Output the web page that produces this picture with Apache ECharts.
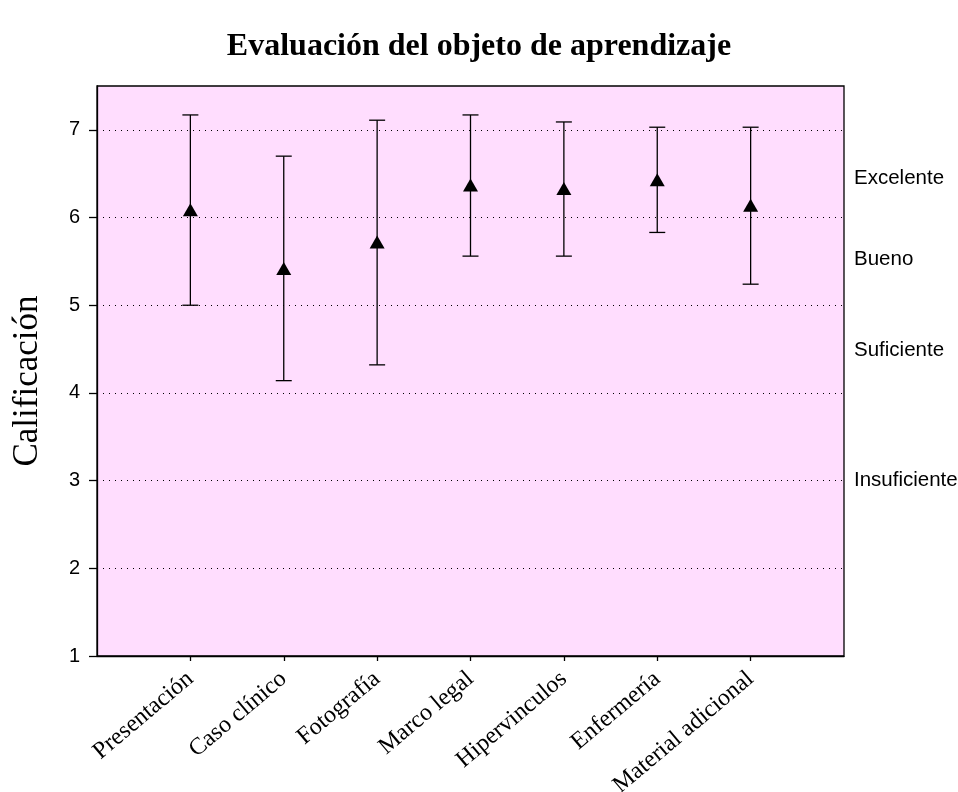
<!DOCTYPE html>
<html>
<head>
<meta charset="utf-8">
<script src="https://cdn.jsdelivr.net/npm/echarts@6/dist/echarts.min.js"></script>
<style>
  html, body { margin: 0; padding: 0; background: #ffffff; }
  #chart { width: 958px; height: 792px; }
</style>
</head>
<body>
<div id="chart"></div>
<script>
// Items evaluated in the learning object
const categories = ['Presentación', 'Caso clínico', 'Fotografía', 'Marco legal', 'Hipervinculos', 'Enfermería', 'Material adicional'];
// Mean score per item
const means = [6.09, 5.42, 5.72, 6.37, 6.33, 6.43, 6.14];
// Lower and upper ends of each error bar
const lows  = [5.00, 4.14, 4.32, 5.56, 5.56, 5.83, 5.24];
const highs = [7.17, 6.70, 7.11, 7.17, 7.09, 7.03, 7.03];
// Score ticks on the left axis
const yTicks = [1, 2, 3, 4, 5, 6, 7];
// Qualitative bands named on the right side
const bandNames  = ['Insuficiente', 'Suficiente', 'Bueno', 'Excelente'];
const bandLevels = [3.0, 4.48, 5.52, 6.45];

const xPositions = categories.map((_, i) => i + 1);

const chart = echarts.init(document.getElementById('chart'), null, { renderer: 'canvas' });

const option = {
  backgroundColor: '#ffffff',
  animation: false,
  title: {
    text: 'Evaluación del objeto de aprendizaje',
    left: 'center',
    top: 26,
    textStyle: {
      fontFamily: '"Liberation Serif", "Times New Roman", serif',
      fontWeight: 'bold',
      fontSize: 32,
      color: '#000'
    }
  },
  grid: {
    left: 97, right: 114, top: 86, bottom: 136,
    outerBoundsMode: 'none',
    containLabel: false,
    show: true,
    backgroundColor: '#FFDDFE',
    borderColor: '#000',
    borderWidth: 1.3
  },
  xAxis: {
    type: 'value',
    min: 0, max: 8, interval: 1,
    splitLine: { show: false },
    axisLine: { show: true, lineStyle: { color: '#000', width: 1.3 } },
    axisTick: { show: true, length: 5, customValues: xPositions, lineStyle: { color: '#000', width: 1.3 } },
    axisLabel: {
      customValues: xPositions,
      rotate: 40,
      margin: 20,
      fontFamily: '"Liberation Serif", "Times New Roman", serif',
      fontSize: 24,
      color: '#000',
      formatter: v => categories[Math.round(v) - 1] || ''
    }
  },
  yAxis: [
    {
      type: 'value',
      min: 1, max: 7.5,
      name: 'Calificación',
      nameLocation: 'middle',
      nameGap: 52,
      nameRotate: 90,
      nameTextStyle: {
        fontFamily: '"Liberation Serif", "Times New Roman", serif',
        fontSize: 35,
        color: '#000',
        padding: [0, 20, 0, 0]
      },
      axisLine: { show: true, lineStyle: { color: '#000', width: 1.3 } },
      axisTick: { show: true, length: 8, customValues: yTicks, lineStyle: { color: '#000', width: 1.3 } },
      axisLabel: {
        customValues: yTicks,
        margin: 17,
        fontFamily: 'Arial, "Liberation Sans", sans-serif',
        fontSize: 20,
        color: '#000'
      },
      splitLine: {
        show: true,
        lineStyle: { color: '#000', width: 1, type: [1, 5] }
      }
    },
    {
      type: 'value',
      min: 1, max: 7.5,
      position: 'right',
      axisLine: { show: false },
      axisTick: { show: false },
      splitLine: { show: false },
      axisLabel: {
        customValues: bandLevels,
        margin: 10,
        fontFamily: 'Arial, "Liberation Sans", sans-serif',
        fontSize: 20.5,
        color: '#000',
        formatter: v => bandNames[bandLevels.indexOf(v)] || ''
      }
    }
  ],
  series: [
    {
      // vertical error bars with horizontal caps
      type: 'custom',
      data: xPositions.map((x, i) => [x, lows[i], highs[i]]),
      encode: { x: 0, y: [1, 2] },
      renderItem: function (params, api) {
        const x = api.value(0);
        const lo = api.coord([x, api.value(1)]);
        const hi = api.coord([x, api.value(2)]);
        const half = 8;
        const style = { stroke: '#000', lineWidth: 1.3 };
        return {
          type: 'group',
          children: [
            { type: 'line', shape: { x1: lo[0], y1: lo[1], x2: hi[0], y2: hi[1] }, style: style },
            { type: 'line', shape: { x1: lo[0] - half, y1: lo[1], x2: lo[0] + half, y2: lo[1] }, style: style },
            { type: 'line', shape: { x1: hi[0] - half, y1: hi[1], x2: hi[0] + half, y2: hi[1] }, style: style }
          ]
        };
      },
      z: 2
    },
    {
      type: 'scatter',
      data: xPositions.map((x, i) => [x, means[i]]),
      symbol: 'triangle',
      symbolSize: [15, 13],
      itemStyle: { color: '#000', opacity: 1 },
      z: 3
    }
  ]
};

chart.setOption(option);
</script>
</body>
</html>
